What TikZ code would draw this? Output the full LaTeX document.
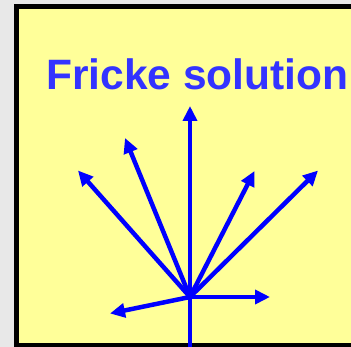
\documentclass[tikz,border=0pt]{standalone}
\usepackage{fontspec}
\setmainfont{Liberation Sans}
\usetikzlibrary{arrows.meta}
\definecolor{bggray}{HTML}{E8E8E8}
\definecolor{paleyellow}{HTML}{FFFF99}
\definecolor{titleblue}{HTML}{3333FF}
\definecolor{arrowblue}{HTML}{0000FF}
\begin{document}
\begin{tikzpicture}[x=1pt,y=-1pt,
  vec/.style={draw=arrowblue,line width=4.5pt,-{Triangle[length=15pt,width=14pt]}},
  stem/.style={draw=arrowblue,line width=4.5pt},
  frame/.style={draw=black,line width=5pt,fill=paleyellow}]
\useasboundingbox (0,0) rectangle (351,347);
\clip (0,0) rectangle (351,347);
\fill[bggray] (0,0) rectangle (351,347);
\draw[frame] (16.5,6.5) rectangle (380,345.5);
\node[anchor=base,text=titleblue,font=\bfseries\fontsize{42.5pt}{50pt}\selectfont,inner sep=0pt] (title) at (197.5,90) {Fricke solution};
\coordinate (O) at (190,297);
\coordinate (up) at (190,106);
\coordinate (ul) at (125,138);
\coordinate (fl) at (78,170.5);
\coordinate (ur) at (254.5,171);
\coordinate (fr) at (318,170.5);
\coordinate (rt) at (270,297);
\coordinate (dl) at (110,313.5);
\coordinate (down) at (190,352);
\draw[stem] (O) -- (down);
\draw[vec] (O) -- (up);
\draw[vec] (O) -- (ul);
\draw[vec] (O) -- (fl);
\draw[vec] (O) -- (ur);
\draw[vec] (O) -- (fr);
\draw[vec] (O) -- (rt);
\draw[vec] (O) -- (dl);
\end{tikzpicture}
\end{document}
